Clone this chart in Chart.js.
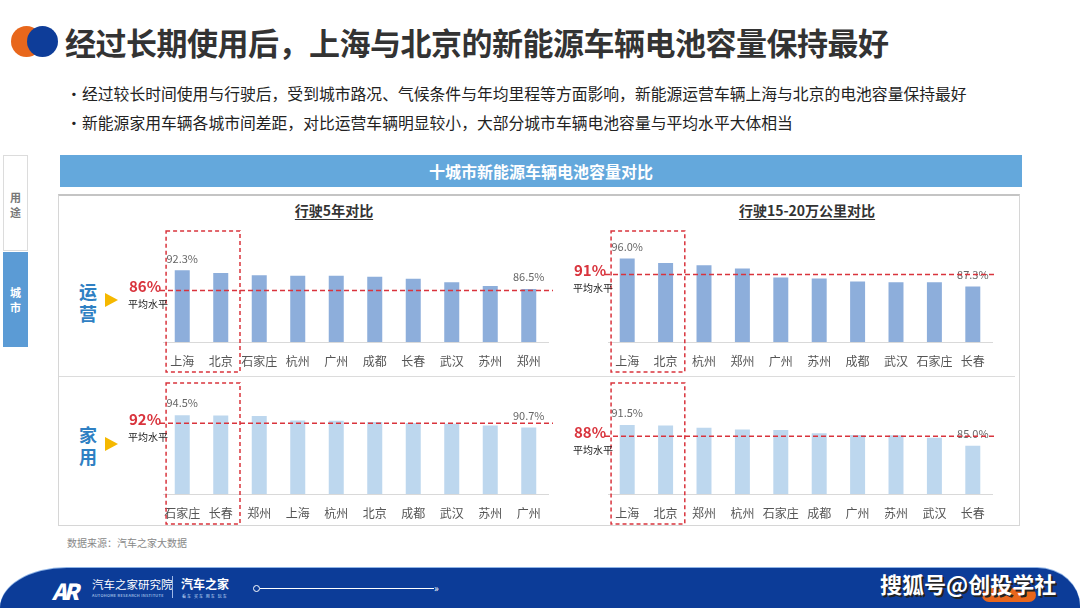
<!DOCTYPE html>
<html>
<head>
<meta charset="utf-8">
<script src="https://cdn.jsdelivr.net/npm/chart.js@4.4.0/dist/chart.umd.min.js"></script>
<style>
  body { margin: 0; width: 1080px; height: 608px; background: #fff; position: relative; overflow: hidden;
         font-family: "Noto Sans CJK SC", "Noto Sans", sans-serif; }
  .abs { position: absolute; }
  .title { left: 65px; top: 20px; font-size: 31px; font-weight: bold; color: #333; line-height: 44px; letter-spacing: -0.5px; }
  .bullet { left: 66px; font-size: 15.8px; color: #222; line-height: 22px; white-space: nowrap; }
  .bullet span { display: inline-block; width: 16px; }
  .tab { left: 3px; width: 25px; font-size: 11px; font-weight: bold; text-align: center; line-height: 15px; box-sizing: border-box; }
  .header { left: 60px; top: 155px; width: 962px; height: 32px; background: #64a8dc; color: #fff; font-weight: bold;
            font-size: 16px; text-align: center; line-height: 32px; }
  .panel { left: 58px; top: 194px; width: 962px; height: 332px; border: 1px solid #d6d6d6; border-top: 2px solid #c4c4c4; box-sizing: border-box; }
  .sep { left: 59px; top: 376px; width: 956px; height: 1px; background: #dcdcdc; }
  .sub { font-size: 14px; font-weight: bold; color: #333; text-decoration: underline; text-underline-offset: 3px; white-space: nowrap; transform: translateX(-50%); }
  .row { font-size: 18px; font-weight: bold; color: #2f80c3; line-height: 22px; width: 20px; text-align: center; }
  .tri { width: 0; height: 0; border-top: 7px solid transparent; border-bottom: 7px solid transparent; border-left: 13px solid #f5b800; }
  canvas { position: absolute; }
  .footer { left: 0; top: 568px; width: 1080px; height: 40px; background: #0c3c98; border-top-left-radius: 70px 42px; border-top-right-radius: 45px 40px;
            box-shadow: 0 -1px 0 #8fb4e6; }
  .tiny { font-size: 4px; color: #cfe0ff; white-space: nowrap; }
</style>
</head>
<body>
<div class="abs" style="left:11px;top:26px;width:31px;height:31px;border-radius:50%;background:#e8671c;"></div>
<div class="abs" style="left:27px;top:26px;width:31px;height:31px;border-radius:50%;background:#0e3d99;"></div>
<div class="abs title">经过长期使用后，上海与北京的新能源车辆电池容量保持最好</div>

<div class="abs bullet" style="top:83px;"><span>•</span>经过较长时间使用与行驶后，受到城市路况、气候条件与年均里程等方面影响，新能源运营车辆上海与北京的电池容量保持最好</div>
<div class="abs bullet" style="top:112px;"><span>•</span>新能源家用车辆各城市间差距，对比运营车辆明显较小，大部分城市车辆电池容量与平均水平大体相当</div>

<div class="abs tab" style="top:155px;height:96px;border:1px solid #dcdcdc;color:#777;padding-top:34px;">用<br>途</div>
<div class="abs tab" style="top:252px;height:95px;background:#5b9bd5;color:#fff;padding-top:33px;">城<br>市</div>

<div class="abs header">十城市新能源车辆电池容量对比</div>
<div class="abs panel"></div>
<div class="abs sep"></div>

<div class="abs sub" style="left:334px;top:200px;">行驶5年对比</div>
<div class="abs sub" style="left:807px;top:200px;">行驶15-20万公里对比</div>

<div class="abs row" style="left:78px;top:280px;">运<br>营</div>
<div class="abs tri" style="left:105px;top:293px;"></div>
<div class="abs row" style="left:78px;top:423px;">家<br>用</div>
<div class="abs tri" style="left:105px;top:437px;"></div>

<canvas id="c1" width="438" height="150" style="left:120px;top:226px;"></canvas>
<canvas id="c2" width="437" height="150" style="left:565px;top:226px;"></canvas>
<canvas id="c3" width="438" height="150" style="left:120px;top:378px;"></canvas>
<canvas id="c4" width="437" height="150" style="left:565px;top:378px;"></canvas>

<div class="abs" style="left:67px;top:535px;font-size:10px;color:#888;">数据来源：汽车之家大数据</div>

<div class="abs footer"></div>
<div class="abs" style="left:52px;top:574px;font-size:22px;font-weight:900;color:#fff;font-style:italic;letter-spacing:-3px;">AR</div>
<div class="abs" style="left:92px;top:576px;font-size:11.5px;color:#fff;">汽车之家研究院</div>
<div class="abs tiny" style="left:92px;top:592px;letter-spacing:0.3px;">AUTOHOME RESEARCH INSTITUTE</div>
<div class="abs" style="left:172px;top:576px;width:1px;height:22px;background:#9fb8e8;"></div>
<div class="abs" style="left:181px;top:575px;font-size:12px;font-weight:bold;color:#fff;">汽车之家</div>
<div class="abs tiny" style="left:182px;top:593px;letter-spacing:1px;">看车 买车 用车 玩车</div>
<div class="abs" style="left:253px;top:585px;width:5px;height:5px;border-radius:50%;border:1px solid #fff;background:#0c3c98;"></div>
<div class="abs" style="left:260px;top:588px;width:174px;height:1px;background:#fff;"></div>
<div class="abs" style="left:434px;top:580px;font-size:10px;color:#fff;">»</div>
<div class="abs" style="left:982px;top:588px;width:54px;height:14px;border-radius:7px;background:#e8671c;"></div>
<div class="abs" style="left:880px;top:567px;font-size:22px;font-weight:bold;color:#fff;text-shadow:2px 2px 0 #222;">搜狐号@创投学社</div>

<script>
/* operating vehicles, 5 years */
const opCities5 = ['上海', '北京', '石家庄', '杭州', '广州', '成都', '长春', '武汉', '苏州', '郑州'];
const opValues5 = [92.3, 91.5, 90.8, 90.6, 90.6, 90.3, 89.7, 88.6, 87.4, 86.5];
const opAvg5 = 86;

/* operating vehicles, 150-200k km */
const opCities15 = ['上海', '北京', '杭州', '郑州', '广州', '苏州', '成都', '武汉', '石家庄', '长春'];
const opValues15 = [96.0, 94.6, 93.9, 92.9, 90.1, 89.8, 88.8, 88.6, 88.6, 87.3];
const opAvg15 = 91;

/* private vehicles, 5 years */
const homeCities5 = ['石家庄', '长春', '郑州', '上海', '杭州', '北京', '成都', '武汉', '苏州', '广州'];
const homeValues5 = [94.5, 94.4, 94.3, 92.9, 92.8, 92.4, 92.1, 91.9, 91.3, 90.7];
const homeAvg5 = 92;

/* private vehicles, 150-200k km */
const homeCities15 = ['上海', '北京', '郑州', '杭州', '石家庄', '成都', '广州', '苏州', '武汉', '长春'];
const homeValues15 = [91.5, 91.3, 90.6, 90.1, 89.9, 88.9, 88.4, 88.3, 87.5, 85.0];
const homeAvg15 = 88;

const cjk = '"Noto Sans CJK SC", "Noto Sans", sans-serif';
const red = '#d9343d';

/* avg line, avg text, first/last labels and the red box round the first two cities */
const panelDeco = {
  id: 'panelDeco',
  afterDatasetsDraw(chart, args, opts) {
    const ctx = chart.ctx;
    const area = chart.chartArea;
    const xs = chart.scales.x, ys = chart.scales.y;
    const meta = chart.getDatasetMeta(0);
    const vals = chart.data.datasets[0].data;
    ctx.save();

    // value labels on first and last bar
    ctx.fillStyle = '#666';
    ctx.font = '11px ' + cjk;
    ctx.textAlign = 'center';
    ctx.textBaseline = 'middle';
    [0, vals.length - 1].forEach(i => {
      const bar = meta.data[i];
      ctx.fillText(vals[i].toFixed(1) + '%', bar.x, bar.y - 12);
    });

    // average line
    const ly = ys.getPixelForValue(opts.avg);
    ctx.strokeStyle = red;
    ctx.lineWidth = 1.5;
    ctx.setLineDash([5, 3]);
    ctx.beginPath();
    ctx.moveTo(area.left - 3, ly);
    ctx.lineTo(area.right + 5, ly);
    ctx.stroke();

    // box round the two top cities
    const step = xs.getPixelForValue(1) - xs.getPixelForValue(0);
    const bx0 = xs.getPixelForValue(0) - step * 0.42;
    const bx1 = xs.getPixelForValue(1) + step * 0.5;
    ctx.setLineDash([4, 3]);
    ctx.strokeRect(bx0, area.top - 5, bx1 - bx0, chart.height - 4 - (area.top - 5));

    // average text
    ctx.setLineDash([]);
    ctx.textAlign = 'right';
    ctx.fillStyle = red;
    ctx.font = 'bold 15px ' + cjk;
    ctx.fillText(opts.avg + '%', bx0 - 5, ly - 4);
    ctx.fillStyle = '#222';
    ctx.font = '10px ' + cjk;
    ctx.fillText('平均水平', bx0 + 2, ly + 14);
    ctx.restore();
  }
};

function makePanel(id, cities, values, avg, color) {
  return new Chart(document.getElementById(id), {
    type: 'bar',
    data: {
      labels: cities,
      datasets: [{
        data: values,
        backgroundColor: color,
        barPercentage: 0.39,
        categoryPercentage: 1,
      }]
    },
    options: {
      responsive: false,
      animation: false,
      layout: { padding: { left: 43, right: 10, top: 10, bottom: 0 } },
      plugins: {
        legend: { display: false },
        tooltip: { enabled: false },
        panelDeco: { avg: avg },
      },
      scales: {
        x: {
          grid: { display: false, drawTicks: false },
          border: { display: true, color: '#d9d9d9' },
          ticks: { color: '#555', font: { size: 12, family: cjk }, padding: 12, maxRotation: 0, autoSkip: false },
          afterFit: s => { s.height = 34; },
        },
        y: {
          display: false,
          min: 70,
          max: 103,
        }
      }
    },
    plugins: [panelDeco]
  });
}

makePanel('c1', opCities5, opValues5, opAvg5, '#8daedb');
makePanel('c2', opCities15, opValues15, opAvg15, '#8daedb');
makePanel('c3', homeCities5, homeValues5, homeAvg5, '#bdd7ee');
makePanel('c4', homeCities15, homeValues15, homeAvg15, '#bdd7ee');
</script>
</body>
</html>
